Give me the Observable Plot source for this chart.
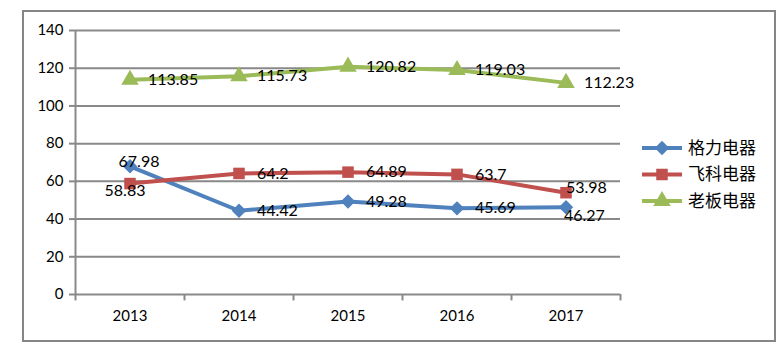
<!DOCTYPE html>
<html><head><meta charset="utf-8">
<script src="https://cdn.jsdelivr.net/npm/d3@7"></script>
<script src="https://cdn.jsdelivr.net/npm/@observablehq/plot@0.6"></script>
<style>
body{margin:0;background:#fff}
#wrap{position:relative;width:783px;height:350px}
#frame{position:absolute;left:22px;top:10px;width:754px;height:332px;border:2px solid #868686;box-sizing:border-box;pointer-events:none}
</style></head><body>
<div id="wrap"><div id="frame"></div></div>
<script>
const years = ["2013","2014","2015","2016","2017"];
const seriesNames = ["格力电器","飞科电器","老板电器"];
const gree = [67.98,44.42,49.28,45.69,46.27];
const flyco = [58.83,64.2,64.89,63.7,53.98];
const robam = [113.85,115.73,120.82,119.03,112.23];
const yTicks = [0,20,40,60,80,100,120,140];

const colors = ["#4F81BD","#C0504D","#9BBB59"];
const symbols = ["diamond2","square","triangle"];
const grid = "#898989";

// label placement styles (per series, per point)
const place = [
  ["tc","r","r","r","below"],
  ["bl","r","r","r","above"],
  ["r","r","r","r","r"]
];
const placeStyle = {
  r:     {textAnchor:"start", dx:18, dy:0},
  tc:    {textAnchor:"middle", dx:9, dy:-4},
  bl:    {textAnchor:"middle", dx:-5, dy:7},
  below: {textAnchor:"start", dx:-2, dy:9},
  above: {textAnchor:"start", dx:0, dy:-5}
};

const allSeries = [gree, flyco, robam];
const data = [];
allSeries.forEach((vals, s) => vals.forEach((v, i) => data.push({
  i, v, s: seriesNames[s], p: place[s][i]
})));

const bounds = d3.range(years.length + 1).map(k => k - 0.5);
const font = "Lato, 'Liberation Sans', sans-serif";

const svg = Plot.plot({
  width: 783, height: 350,
  marginLeft: 75, marginRight: 163, marginTop: 30, marginBottom: 56,
  style: {fontFamily: font, background: "transparent", overflow: "visible"},
  x: {domain: [-0.5, years.length - 0.5]},
  y: {domain: [0, 140]},
  color: {domain: seriesNames, range: colors},
  symbol: {domain: seriesNames, range: symbols},
  marks: [
    Plot.ruleY(yTicks, {stroke: grid, strokeWidth: 2}),
    Plot.ruleX([-0.5], {stroke: grid, strokeWidth: 2}),
    Plot.ruleX(bounds, {y1: 0, y2: -3.4, stroke: grid, strokeWidth: 2}),
    Plot.axisY(yTicks, {tickSize: 6, stroke: grid, strokeWidth: 2, tickPadding: 6, fontSize: 15, fill: "#000", label: null}),
    Plot.axisX(d3.range(years.length), {tickSize: 0, tickPadding: 16, tickFormat: i => years[i], fontSize: 15, fill: "#000", label: null}),
    Plot.line(data, {x: "i", y: "v", z: "s", stroke: "s", strokeWidth: 4}),
    Plot.dot(data, {x: "i", y: "v", symbol: "s", fill: "s", r: 6.5}),
    ...Object.entries(placeStyle).map(([k, st]) =>
      Plot.text(data.filter(d => d.p === k), {
        x: "i", y: "v", text: d => String(d.v), fill: "#000", fontSize: 16, ...st
      }))
  ]
});

const g = d3.select(svg).append("g").attr("text-anchor", "start");
seriesNames.forEach((name, k) => {
  const y = 148 + 26.5 * k;
  g.append("line").attr("x1", 642).attr("x2", 682).attr("y1", y).attr("y2", y)
    .attr("stroke", colors[k]).attr("stroke-width", 4);
  const sym = [d3.symbolDiamond2 || d3.symbolDiamond, d3.symbolSquare, d3.symbolTriangle][k];
  g.append("path").attr("transform", `translate(662,${y})`)
    .attr("d", d3.symbol().type(sym).size(Math.PI * 6.5 * 6.5)()).attr("fill", colors[k]);
  g.append("text").attr("x", 688).attr("y", y).attr("dy", "0.35em")
    .style("text-anchor", "start")
    .style("font-family", "'Noto Sans CJK SC', sans-serif").style("font-size", "17px")
    .attr("fill", "#000").text(name);
});

document.getElementById("wrap").prepend(svg);
</script>
</body></html>
